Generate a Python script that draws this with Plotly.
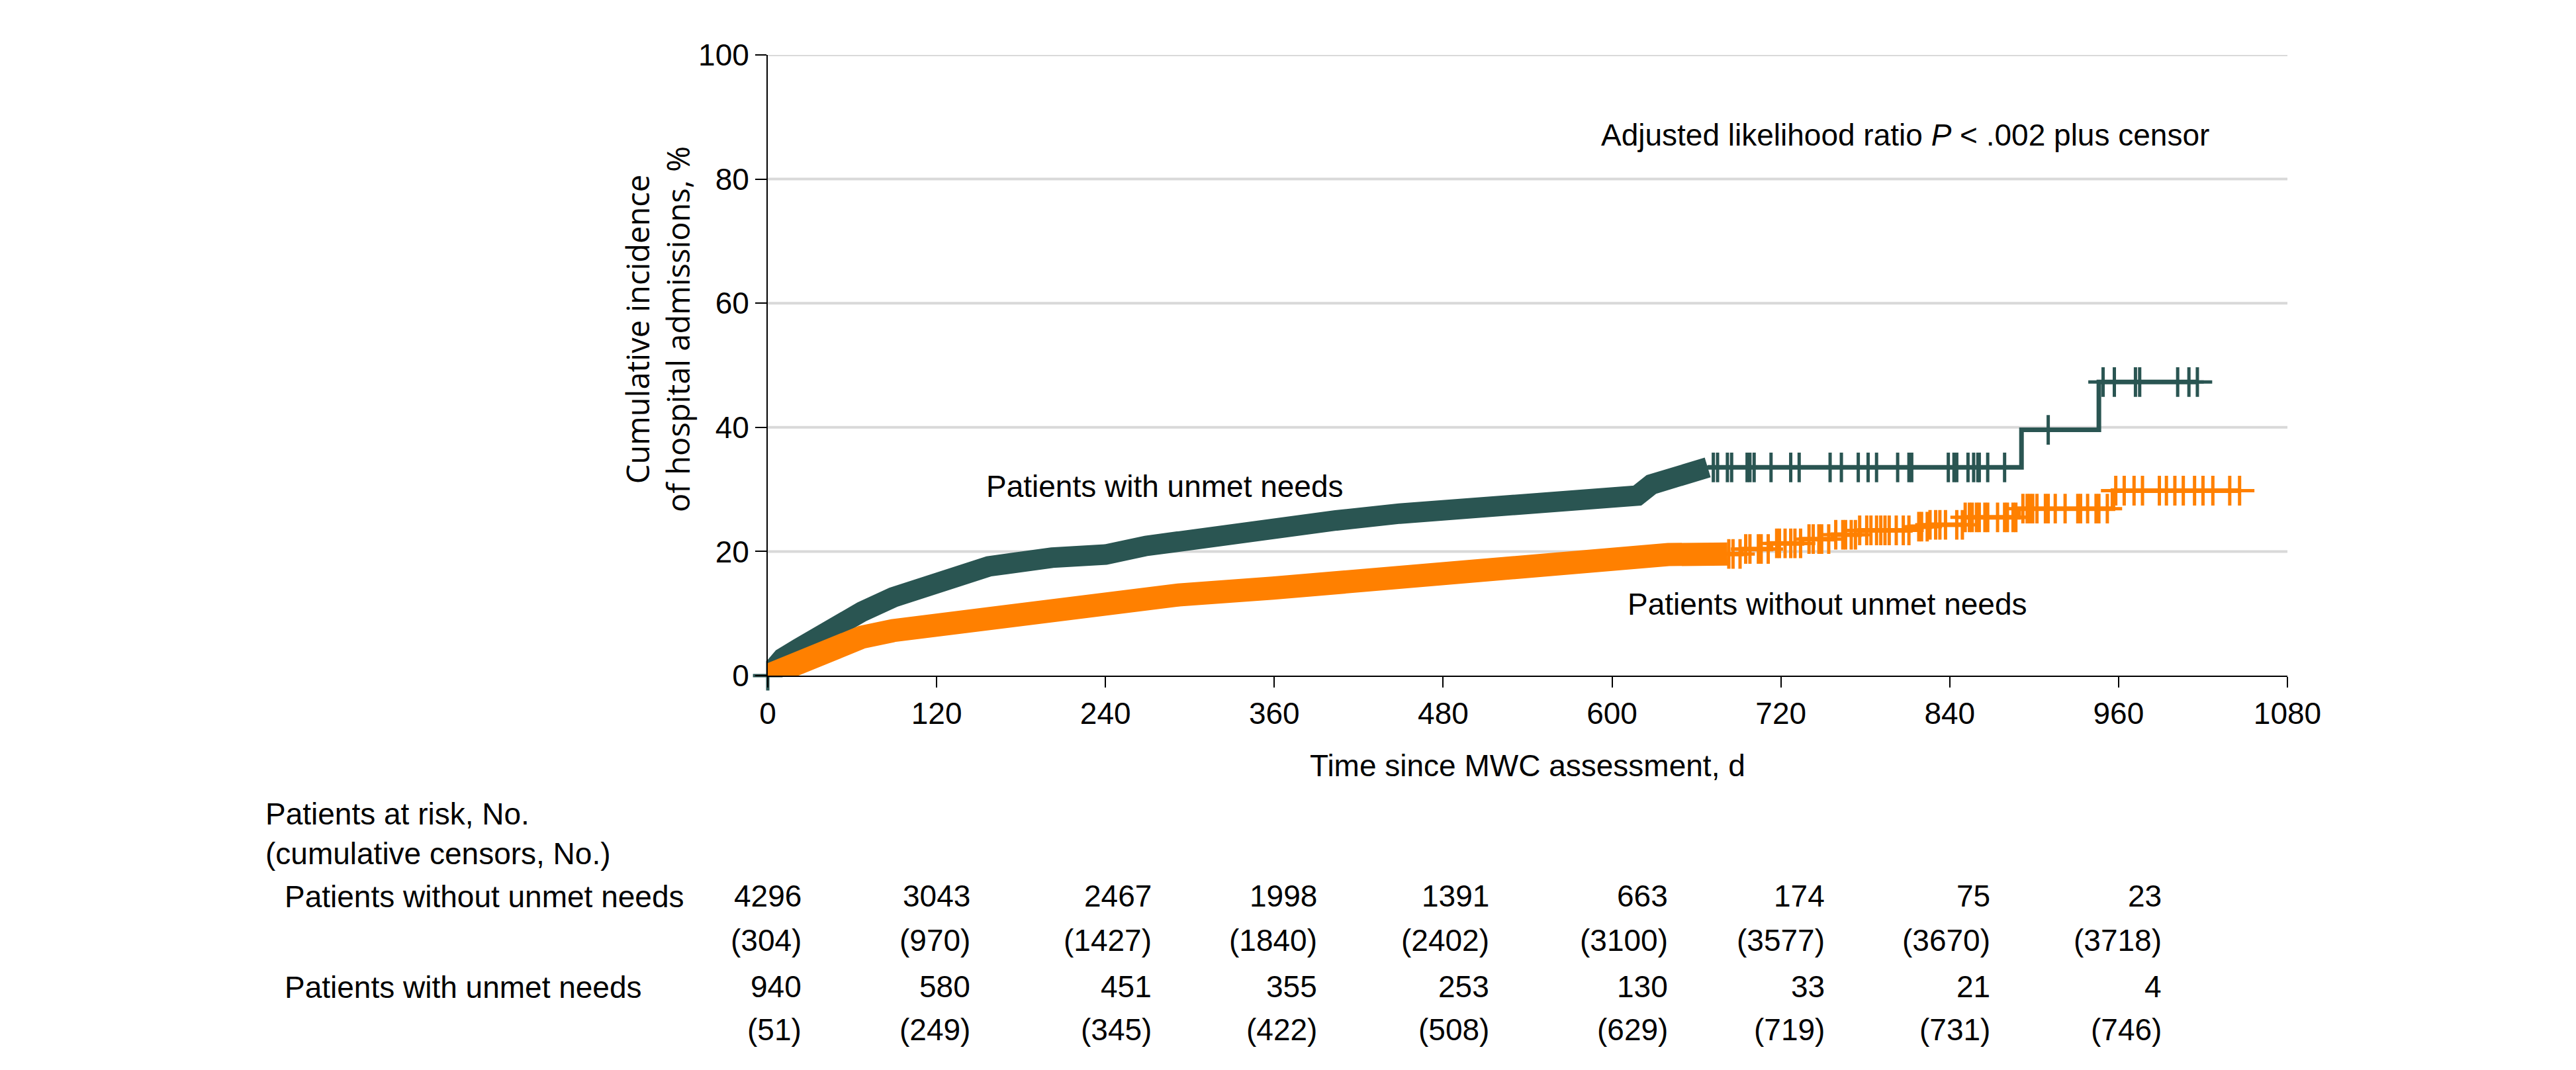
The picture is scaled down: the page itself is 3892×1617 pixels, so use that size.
import numpy as np
import plotly.graph_objects as go

# ---------------- data ----------------
# Patients with unmet needs (teal) – cumulative incidence step points
teal_t = [0, 10.5, 22, 44, 67, 89, 120, 157, 202, 240, 269, 314, 359, 404, 449,
          480, 539, 580, 600, 618, 628, 640, 655, 668, 891, 946, 1016]
teal_y = [0, 2.8, 4.4, 7.6, 10.3, 12.6, 15.1, 17.6, 19.0, 19.5, 20.9, 22.5, 23.5,
          25.0, 26.1, 26.6, 27.3, 28.2, 28.5, 29.0, 30.8, 31.6, 32.3, 33.55, 39.6,
          47.3, 47.3]
teal_dense_end = 668  # densely censored up to this day
teal_censor = [0, 672, 675, 682, 685, 696, 698, 701, 713, 727, 733, 755, 763, 775,
               782, 788, 803, 811, 813, 839, 843, 845, 853, 857, 860, 861, 867, 879,
               910, 949, 957, 972, 975, 1002, 1010, 1016]

# Patients without unmet needs (orange)
orange_t = [0, 5, 22, 44, 58, 67, 89, 120, 157, 202, 240, 292, 359, 427, 480, 539,
            584, 611, 640, 682, 692, 713, 735, 757, 776, 812, 826, 850, 889, 956, 1046]
orange_y = [0, 0.5, 1.5, 4.6, 5.8, 6.2, 7.25, 8.2, 9.5, 11.1, 12.0, 13.0, 14.1, 15.4,
            16.3, 17.2, 18.3, 19.3, 19.5, 19.6, 20.4, 21.3, 22.0, 22.7, 23.4, 24.0,
            24.3, 25.5, 26.9, 29.8, 29.8]
orange_dense_end = 682
orange_censor = [683, 686, 691, 695, 698, 704, 706, 711, 717, 719, 723, 727, 730, 734,
                 740, 743, 747, 749, 754, 759, 764, 766, 770, 773, 776, 781, 784, 788,
                 791, 794, 797, 802, 807, 811, 818, 820, 824, 826, 830, 833, 837, 845,
                 849, 851, 854, 856, 859, 861, 865, 867, 874, 879, 881, 885, 887, 892,
                 895, 897, 899, 902, 908, 910, 915, 922, 931, 933, 938, 944, 946, 952,
                 958, 964, 971, 977, 989, 994, 1000, 1006, 1014, 1020, 1027, 1039, 1046]

# axis ticks
x_ticks = [0, 120, 240, 360, 480, 600, 720, 840, 960, 1080]
y_ticks = [0, 20, 40, 60, 80, 100]

# risk table
risk_times = [0, 120, 240, 360, 480, 600, 720, 840, 960]
without_at_risk = [4296, 3043, 2467, 1998, 1391, 663, 174, 75, 23]
without_censored = [304, 970, 1427, 1840, 2402, 3100, 3577, 3670, 3718]
with_at_risk = [940, 580, 451, 355, 253, 130, 33, 21, 4]
with_censored = [51, 249, 345, 422, 508, 629, 719, 731, 746]

# ---------------- style ----------------
TEAL = "#2A5552"
ORANGE = "#FF8000"
FONT = "Liberation Sans, Arial, sans-serif"
TITLE_FONT = "Open Sans, Liberation Sans, sans-serif"
FS = 46
col_shift = [53, 53, 72, 67, 72, 86, 68, 63, 67]  # px offsets of risk-table columns

W, H = 3892, 1617
ML, MR, MT, MB = 1152, 444, 75, 604


def step_lookup(t, y, pts):
    t = np.asarray(t, float)
    y = np.asarray(y, float)
    idx = np.searchsorted(t, np.asarray(pts, float), side="right") - 1
    idx = np.clip(idx, 0, len(y) - 1)
    return y[idx]


fig = go.Figure()


def add_curve(t, y, dense_end, censor, color, band_w):
    t = np.asarray(t, float)
    y = np.asarray(y, float)
    k = int(np.searchsorted(t, dense_end))
    # densely censored band
    fig.add_trace(go.Scatter(x=t[:k + 1], y=y[:k + 1], mode="lines",
                             line=dict(color=color, width=band_w, shape="linear"),
                             hoverinfo="skip", showlegend=False))
    # step line after the dense part
    fig.add_trace(go.Scatter(x=t[k:], y=y[k:], mode="lines",
                             line=dict(color=color, width=7, shape="hv"),
                             hoverinfo="skip", showlegend=False))
    # censor marks
    fig.add_trace(go.Scatter(x=censor, y=step_lookup(t, y, censor), mode="markers",
                             marker=dict(symbol="cross-thin", size=32,
                                         line=dict(color=color, width=5)),
                             cliponaxis=False, hoverinfo="skip", showlegend=False))


add_curve(teal_t, teal_y, teal_dense_end, teal_censor, TEAL, 31)
add_curve(orange_t, orange_y, orange_dense_end, orange_censor, ORANGE, 35)

# gridlines
shapes = []
for v in y_ticks[1:]:
    shapes.append(dict(type="line", xref="x", yref="y", x0=0, x1=1080, y0=v, y1=v,
                       line=dict(color="#D9D9D9", width=4), layer="below"))

ann = []


def txt(text, x, y, xref="paper", yref="paper", xanchor="left", xshift=0, **kw):
    ann.append(dict(text=text, x=x, y=y, xref=xref, yref=yref, xanchor=xanchor,
                    yanchor="middle", showarrow=False, xshift=xshift,
                    font=kw.pop("font", dict(family=FONT, size=FS, color="black")), **kw))


def py(px):  # pixel row -> paper y
    return (H - MB - px) / (H - MB - MT)


def pxx(px):  # pixel column -> paper x
    return (px - ML) / (W - ML - MR)


# in-plot labels
txt("Patients with unmet needs", 154.5, 30.5, xref="x", yref="y")
txt("Patients without unmet needs", 610, 11.5, xref="x", yref="y")
txt("Adjusted likelihood ratio <i>P</i> &lt; .002 plus censor", 591.5, 87.1,
    xref="x", yref="y")

# axis titles
txt("Time since MWC assessment, d", 0.5, py(1149), xanchor="center")
txt("Cumulative incidence<br>of hospital admissions, %", pxx(985), py(490),
    xanchor="center", textangle=-90,
    font=dict(family=TITLE_FONT, size=47, color="black"))

# risk table
txt("Patients at risk, No.", pxx(391), py(1222))
txt("(cumulative censors, No.)", pxx(391), py(1282))
txt("Patients without unmet needs", pxx(420), py(1347))
txt("Patients with unmet needs", pxx(420), py(1484))
rows = [(without_at_risk, 1346, "{}"), (without_censored, 1413, "({})"),
        (with_at_risk, 1483, "{}"), (with_censored, 1548, "({})")]
for vals, ypx, fmt in rows:
    for i, (tm, v) in enumerate(zip(risk_times, vals)):
        txt(fmt.format(v), tm, py(ypx), xref="x", xanchor="right", xshift=col_shift[i])

fig.update_layout(
    width=W, height=H,
    margin=dict(l=ML, r=MR, t=MT, b=MB),
    paper_bgcolor="white", plot_bgcolor="white",
    showlegend=False,
    shapes=shapes, annotations=ann,
    font=dict(family=FONT, size=FS, color="black"),
    xaxis=dict(range=[0, 1080], tickvals=x_ticks, ticks="outside", ticklen=16,
               tickwidth=2, tickcolor="black", showline=True, linecolor="black",
               linewidth=2, showgrid=False, zeroline=False,
               tickfont=dict(family=FONT, size=FS, color="black")),
    yaxis=dict(range=[0, 100], tickvals=y_ticks, ticks="outside", ticklen=17,
               tickwidth=2, tickcolor="black", showline=True, linecolor="black",
               linewidth=2, showgrid=False, zeroline=False,
               tickfont=dict(family=FONT, size=FS, color="black")),
)

fig.write_html("out.html")
